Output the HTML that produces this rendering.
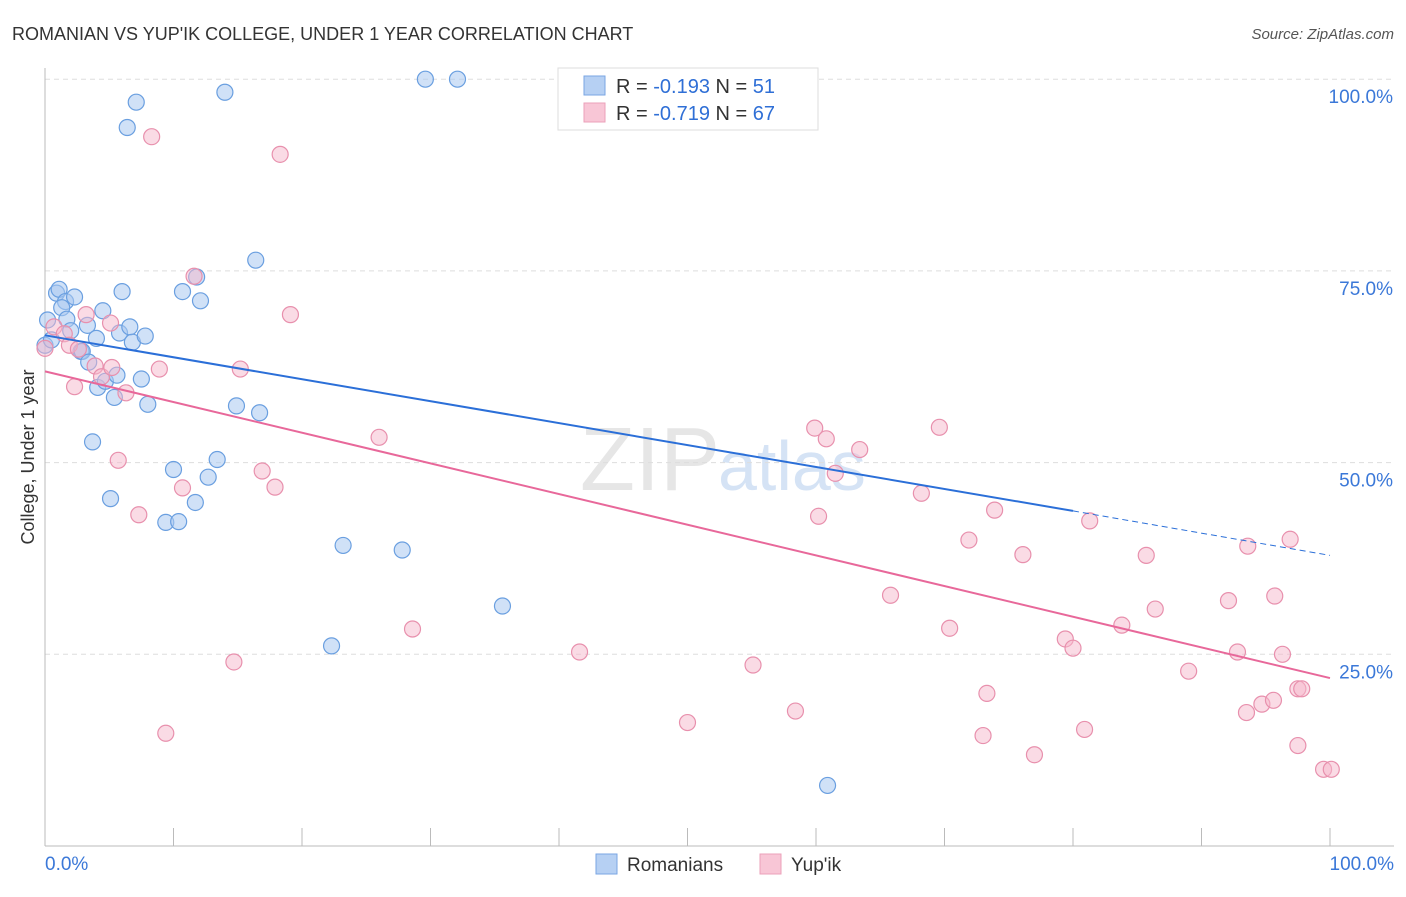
<!DOCTYPE html>
<html><head><meta charset="utf-8"><style>
body{margin:0;background:#fff;font-family:"Liberation Sans",sans-serif}
svg text{font-family:"Liberation Sans",sans-serif}
</style></head><body>
<svg id="chart" width="1406" height="892">
<text x="12" y="40" font-size="18" fill="#333">ROMANIAN VS YUP'IK COLLEGE, UNDER 1 YEAR CORRELATION CHART</text>
<text x="1394" y="39" font-size="15" fill="#555" font-style="italic" text-anchor="end">Source: ZipAtlas.com</text>
<text x="720" y="490" font-size="90" fill="#e6e6e6" text-anchor="end" font-family="Liberation Serif">ZIP</text>
<text x="718" y="490" font-size="70" fill="#d5e3f5">atlas</text>
<text transform="translate(34,457) rotate(-90)" font-size="18" fill="#333" text-anchor="middle">College, Under 1 year</text>
<g id="grid"></g><g id="axes"></g><g id="pts"></g><g id="lines"></g>
<g>
<rect x="558" y="68" width="260" height="62" fill="#fff" stroke="#ddd"/>
<rect x="584" y="76" width="21" height="19" fill="#b6d0f3" stroke="#7aa6e3"/>
<rect x="584" y="103" width="21" height="19" fill="#f8c6d6" stroke="#eba0ba"/>
<text x="616" y="93" font-size="20" fill="#333">R = <tspan fill="#2f6fd6">-0.193</tspan>   N = <tspan fill="#2f6fd6">51</tspan></text>
<text x="616" y="120" font-size="20" fill="#333">R = <tspan fill="#2f6fd6">-0.719</tspan>   N = <tspan fill="#2f6fd6">67</tspan></text>
</g>
<g>
<rect x="596" y="854" width="21" height="20" fill="#b6d0f3" stroke="#7aa6e3"/>
<text x="627" y="871" font-size="19" fill="#333">Romanians</text>
<rect x="760" y="854" width="21" height="20" fill="#f8c6d6" stroke="#eba0ba"/>
<text x="791" y="871" font-size="19" fill="#333">Yup'ik</text>
</g>
</svg>
<script>
const yTicks=[25,50,75,100];
const yTickLabels=["25.0%","50.0%","75.0%","100.0%"];
const xTicks=[0,10,20,30,40,50,60,70,80,90,100];
const romX=[0.9,1.1,1.6,1.3,2.3,1.7,2.0,3.3,2.8,2.9,4.5,4.0,3.4,4.1,4.7,5.4,5.6,7.5,6.0,5.8,6.6,6.8,7.8,8.0,3.7,5.1,7.1,6.4,14.0,29.6,32.1,16.4,11.8,10.7,12.1,14.9,16.7,13.4,10.0,12.7,11.7,9.4,10.4,23.2,27.8,35.6,22.3,60.9,0.2,0.0,0.5];
const romY=[72.1,72.6,71.0,70.2,71.6,68.7,67.2,67.9,64.5,64.5,69.8,66.2,63.1,59.8,60.6,58.5,61.4,60.9,72.3,66.9,67.7,65.7,66.5,57.6,52.7,45.3,97.0,93.7,98.3,100,100,76.4,74.2,72.3,71.1,57.4,56.5,50.4,49.1,48.1,44.8,42.2,42.3,39.2,38.6,31.3,26.1,7.9,68.6,65.3,66.0];
const yupX=[8.3,18.3,11.6,19.1,0.7,1.5,3.2,5.1,1.9,2.6,3.9,4.4,5.2,6.3,2.3,8.9,15.2,5.7,7.3,10.7,16.9,17.9,26.0,28.6,14.7,9.4,41.6,50.0,55.1,58.4,59.9,60.8,61.5,60.2,63.4,69.6,68.2,65.8,70.4,71.9,73.9,73.3,73.0,76.1,77.0,79.4,80.0,80.9,81.3,83.8,85.7,86.4,89.0,92.1,93.6,92.8,93.5,94.7,95.6,95.7,96.3,96.9,97.5,97.5,97.8,99.5,100.1,0.0];
const yupY=[92.5,90.2,74.3,69.3,67.7,66.8,69.3,68.2,65.3,64.8,62.6,61.2,62.4,59.1,59.9,62.2,62.2,50.3,43.2,46.7,48.9,46.8,53.3,28.3,24.0,14.7,25.3,16.1,23.6,17.6,54.5,53.1,48.6,43.0,51.7,54.6,46.0,32.7,28.4,39.9,43.8,19.9,14.4,38.0,11.9,27.0,25.8,15.2,42.4,28.8,37.9,30.9,22.8,32.0,39.1,25.3,17.4,18.5,19.0,32.6,25.0,40.0,20.5,13.1,20.5,10.0,10.0,64.9];
const romLine=[[0,66.6],[80,43.7],[100,37.9]];
const yupLine=[[0,61.9],[100,21.9]];
const X=v=>45+v*12.85, Y=v=>846-v*7.668;
const NS="http://www.w3.org/2000/svg";
function mk(t,a,p){const e=document.createElementNS(NS,t);for(const k in a)e.setAttribute(k,a[k]);document.getElementById(p).appendChild(e);return e;}
yTicks.forEach((t,i)=>{
 const l=mk('line',{x1:45,x2:1394,y1:Y(t),y2:Y(t),stroke:'#ddd','stroke-dasharray':'5,4'},'grid');
 
 
 const tx=mk('text',{x:1393,y:Y(t)+24,'font-size':19,fill:'#3b78d8','text-anchor':'end'},'axes');
 tx.textContent=yTickLabels[i];
 
 
});
const ax=mk('line',{x1:45,x2:1394,y1:846,y2:846,stroke:'#bbb'},'axes');


const ay=mk('line',{x1:45,x2:45,y1:68,y2:846,stroke:'#bbb'},'axes');


xTicks.forEach(t=>{
 const l=mk('line',{x1:X(t),x2:X(t),y1:828,y2:846,stroke:'#bbb'},'axes');
 
 
});
[["0.0%",45,'start'],["100.0%",1394,'end']].forEach(([s,x,a])=>{
 const t=mk('text',{x:x,y:870,'font-size':19,fill:'#3b78d8','text-anchor':a},'axes');t.textContent=s;
 
 
});
romX.forEach((v,i)=>{
 const c=mk('circle',{cx:X(v),cy:Y(romY[i]),r:8,fill:'#a9c8f0','fill-opacity':0.55,stroke:'#6a9fe0','stroke-width':1.2},'pts');
 
 
});
yupX.forEach((v,i)=>{
 const c=mk('circle',{cx:X(v),cy:Y(yupY[i]),r:8,fill:'#f5b8cc','fill-opacity':0.5,stroke:'#e890ad','stroke-width':1.2},'pts');
 
 
});
const r1=mk('line',{x1:X(romLine[0][0]),y1:Y(romLine[0][1]),x2:X(romLine[1][0]),y2:Y(romLine[1][1]),stroke:'#2b6fd8','stroke-width':2},'lines');


const r2=mk('line',{x1:X(romLine[1][0]),y1:Y(romLine[1][1]),x2:X(romLine[2][0]),y2:Y(romLine[2][1]),stroke:'#2b6fd8','stroke-width':1,'stroke-dasharray':'6,4'},'lines');


const p1=mk('line',{x1:X(yupLine[0][0]),y1:Y(yupLine[0][1]),x2:X(yupLine[1][0]),y2:Y(yupLine[1][1]),stroke:'#e8689a','stroke-width':2},'lines');


</script>
</body></html>
